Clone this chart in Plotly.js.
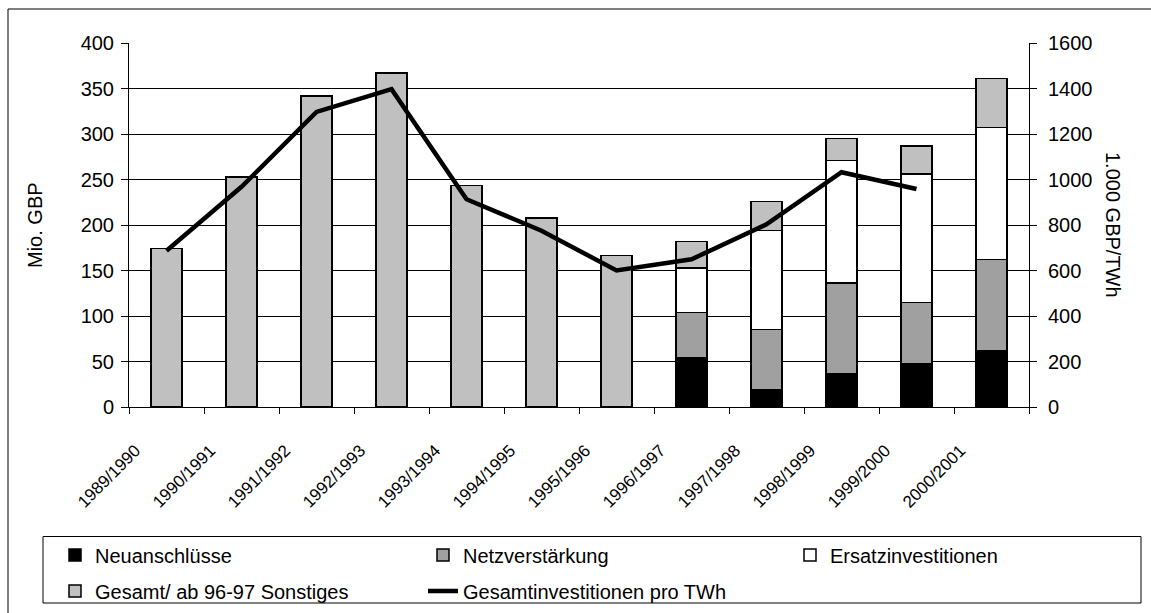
<!DOCTYPE html>
<html><head><meta charset="utf-8">
<script src="https://cdn.plot.ly/plotly-3.0.1.min.js"></script>
<style>html,body{margin:0;padding:0;background:#fff}#chart{width:1151px;height:613px}</style>
</head><body><div id="chart"></div>
<script>
const categories = ['1989/1990','1990/1991','1991/1992','1992/1993','1993/1994','1994/1995','1995/1996','1996/1997','1997/1998','1998/1999','1999/2000','2000/2001'];
const neuanschluesse = [null,null,null,null,null,null,null,54,19,36,47,62];
const netzverstaerkung = [null,null,null,null,null,null,null,50,66,100,68,100];
const ersatzinvestitionen = [null,null,null,null,null,null,null,49,109,135,141,145];
const gesamtSonstiges = [174,253,342,367,243.5,207.5,166.5,29,32,24,31,54];
const investProTWh = [687,968,1297,1397,913,775,600,649,803,1032,958,null];
const leftTicks = [0,50,100,150,200,250,300,350,400];
const rightTicks = [0,200,400,600,800,1000,1200,1400,1600];

const FONT = 'Liberation Sans, Arial, sans-serif';
const FS = 20;
const outline = {color:'#000', width:1.5};

const traces = [
  {type:'bar', name:'Neuanschlüsse', x:categories, y:neuanschluesse, marker:{color:'#000000', line:outline}, legend:'legend'},
  {type:'bar', name:'Netzverstärkung', x:categories, y:netzverstaerkung, marker:{color:'#a0a0a0', line:outline}, legend:'legend'},
  {type:'bar', name:'Ersatzinvestitionen', x:categories, y:ersatzinvestitionen, marker:{color:'#ffffff', line:outline}, legend:'legend3'},
  {type:'bar', name:'Gesamt/ ab 96-97 Sonstiges', x:categories, y:gesamtSonstiges, marker:{color:'#c0c0c0', line:outline}, legend:'legend2'},
  {type:'scatter', mode:'lines', name:'Gesamtinvestitionen pro TWh', x:categories, y:investProTWh, yaxis:'y2', line:{color:'#000', width:4.5}, connectgaps:false, legend:'legend2'}
];

// geometry helpers (plot area: l=129, t=43, w=900, h=364)
const px2x = p => (p-129)/900;
const py2y = p => (407-p)/364;

function leg(xpx, ypx) {
  return {orientation:'h', xref:'container', yref:'container', x:xpx/1151, y:1-ypx/613, xanchor:'left', yanchor:'middle',
          entrywidth:323, traceorder:'normal', font:{size:FS}, bgcolor:'rgba(0,0,0,0)', borderwidth:0};
}

const layout = {
  width:1151, height:613,
  margin:{l:129, r:122, t:43, b:206, autoexpand:false},
  paper_bgcolor:'#fff', plot_bgcolor:'#fff',
  font:{family:FONT, size:FS, color:'#000'},
  barmode:'stack', bargap:0.587,
  showlegend:true,
  xaxis:{type:'category', tickangle:-45, ticks:'outside', tickson:'boundaries', ticklen:6, tickcolor:'#000',
         showline:true, linecolor:'#000', linewidth:1, showgrid:false, tickfont:{size:17},
         ticklabelshift:-31, ticklabelstandoff:26, fixedrange:true},
  yaxis:{range:[0,400], tickvals:leftTicks, ticks:'outside', ticklen:7, tickcolor:'#000', showline:true, linecolor:'#000', linewidth:1,
         showgrid:true, gridcolor:'#000', gridwidth:1, zeroline:false, tickfont:{size:FS}, ticklabelstandoff:3, fixedrange:true},
  yaxis2:{range:[0,1600], tickvals:rightTicks, overlaying:'y', side:'right', ticks:'outside', ticklen:7, tickcolor:'#000', showline:true, linecolor:'#000', linewidth:1,
         showgrid:false, zeroline:false, tickfont:{size:FS}, ticklabelstandoff:7, fixedrange:true},
  legend:leg(55, 555),
  legend3:leg(790, 555),
  legend2:leg(55, 591),
  shapes:[
    {type:'line', xref:'paper', yref:'paper', x0:px2x(8), x1:px2x(8), y0:py2y(625), y1:py2y(9), line:{color:'#000', width:1}},
    {type:'line', xref:'paper', yref:'paper', x0:px2x(8), x1:px2x(1165), y0:py2y(9), y1:py2y(9), line:{color:'#000', width:1}},
    {type:'rect', xref:'paper', yref:'paper', x0:px2x(43), x1:px2x(1141), y0:py2y(603), y1:py2y(536.5), line:{color:'#000', width:1}, fillcolor:'rgba(0,0,0,0)', layer:'below'}
  ],
  annotations:[
    {text:'Mio. GBP', xref:'paper', yref:'paper', x:px2x(35), y:0.5, textangle:-90, showarrow:false, xanchor:'center', yanchor:'middle', font:{size:FS}},
    {text:'1.000 GBP/TWh', xref:'paper', yref:'paper', x:px2x(1113), y:0.5, textangle:90, showarrow:false, xanchor:'center', yanchor:'middle', font:{size:FS}}
  ],
  hovermode:false
};

Plotly.newPlot('chart', traces, layout, {displayModeBar:false, staticPlot:true});
</script></body></html>
